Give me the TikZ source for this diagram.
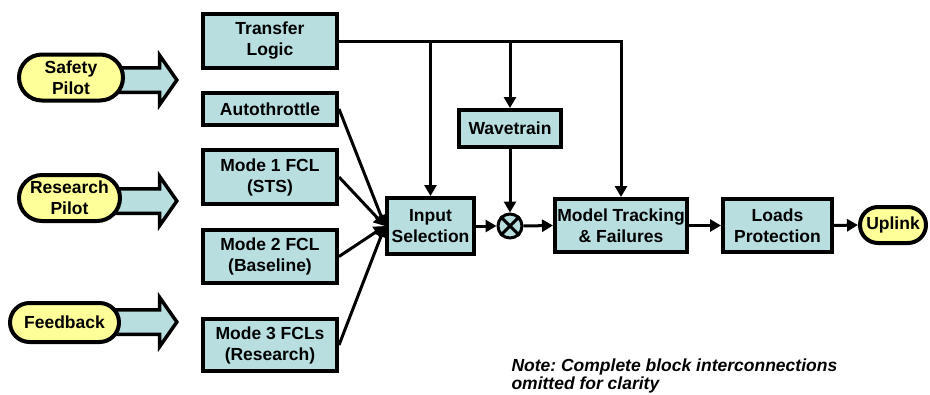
\documentclass[tikz,border=0pt]{standalone}
\usepackage{fontspec}
\setmainfont{Liberation Sans}
\frenchspacing
\usetikzlibrary{%
  arrows.meta,%
  shapes.misc,% wg. rounded rectangle
  shapes.arrows,%
  positioning%
}
\definecolor{boxblue}{RGB}{184,222,224}
\definecolor{pillyellow}{RGB}{255,255,153}

\begin{document}
\begin{tikzpicture}
[x=1pt, y=-1pt, draw=black, line width=3pt, >={Triangle[length=11pt,width=12pt]},
block/.style={rectangle, draw, line width=4pt, fill=boxblue, inner sep=0pt, align=center, font=\fontsize{17.5}{21}\selectfont\bfseries},
pill/.style={rounded rectangle, draw, line width=4pt, fill=pillyellow, inner sep=0pt, align=center, font=\fontsize{17.5}{21}\selectfont\bfseries},
fatarrow/.style={single arrow, draw, line width=3.5pt, fill=boxblue, inner sep=0pt, inner ysep=10.5pt, single arrow head extend=12.5pt, single arrow tip angle=110, single arrow head indent=0pt, minimum height=65pt, anchor=tip},
junction/.style={circle, draw, fill=boxblue, inner sep=0pt, minimum size=24pt, line width=3pt},
note/.style={inner sep=0pt, align=left, font=\fontsize{17.5}{18}\selectfont\bfseries\itshape}]

\useasboundingbox (0,0) rectangle (930,394);

% pilot inputs
\node[fatarrow] (a1) at (179,80) {};
\node[fatarrow] (a2) at (179,201) {};
\node[fatarrow] (a3) at (179,322) {};

\node[pill, minimum width=104pt, minimum height=46pt] (safety) at (71,77.5) {Safety\\Pilot};
\node[pill, minimum width=101pt, minimum height=46pt] (research) at (69.5,198) {Research\\Pilot};
\node[pill, minimum width=109pt, minimum height=39pt] (feedb) at (64.5,322.5) {Feedback};

% control law blocks
\node[block, minimum width=134pt, minimum height=54pt] (trans) at (270,41) {Transfer\\Logic};
\node[block, minimum width=134pt, minimum height=32pt] (auto) at (270,109) {Autothrottle};
\node[block, minimum width=134pt, minimum height=54pt] (fcl1) at (270,177) {Mode 1 FCL\\(STS)};
\node[block, minimum width=134pt, minimum height=53pt] (fcl2) at (270,256.5) {Mode 2 FCL\\(Baseline)};
\node[block, minimum width=134pt, minimum height=52pt] (fcl3) at (270,345) {Mode 3 FCLs\\(Research)};

\node[block, minimum width=87pt, minimum height=56pt] (insel) at (430.5,226) {Input\\Selection};
\node[block, minimum width=102pt, minimum height=37pt] (wave) at (510,128.5) {Wavetrain};
\node[junction] (mix) at (510,226) {};
\node[block, minimum width=132pt, minimum height=53pt] (model) at (621,225.5) {Model Tracking\\\& Failures};
\node[block, minimum width=109pt, minimum height=53pt] (loads) at (777.5,225.5) {Loads\\Protection};
\node[pill, minimum width=66pt, minimum height=36pt] (uplink) at (893,225) {Uplink};

\draw (mix.north west) -- (mix.south east) (mix.north east) -- (mix.south west);

% connections
\draw[->] (trans.east) -| (model.north);
\draw[->] (trans.east -| insel.north) -- (insel.north);
\draw[->] (trans.east -| wave.north) -- (wave.north);
\draw[->] (wave.south) -- (mix.north);
\draw[->] (insel.east) -- (mix.west);
\draw[->] (mix.east) -- (model.west);
\draw[->] (model.east) -- (loads.west);
\draw[->] (loads.east) -- (uplink.west);
\foreach \n in {auto,fcl1,fcl2,fcl3}
  \draw[->] (\n.east) -- (insel.west);

\node[note, anchor=north west] (remark) at (510,357) {Note: Complete block interconnections\\omitted for clarity};

\end{tikzpicture}
\end{document}
